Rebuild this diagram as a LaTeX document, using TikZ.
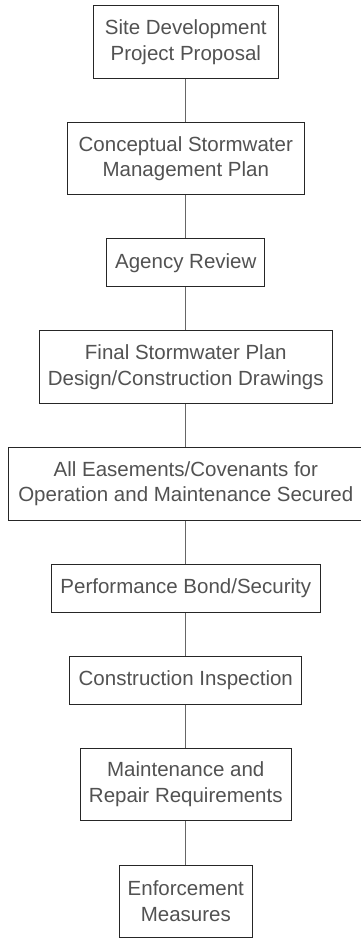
\documentclass[tikz,border=0pt]{standalone}
\usepackage{fontspec}
\setmainfont{Liberation Sans}
\begin{document}
\begin{tikzpicture}[x=1pt,y=1pt,
  stepbox/.style={draw=black!85, line width=1pt, fill=white, text=black!68, align=center,
    font=\fontsize{20.5}{25.7}\selectfont, inner sep=0pt, anchor=center},
  link/.style={draw=black!60, line width=1.3pt}]
\useasboundingbox (0,0) rectangle (360,-941);
\def\cx{185.8}
\node[stepbox, minimum width=185pt, minimum height=72.6pt] (n1) at (\cx,-42) {Site Development\\Project Proposal};
\node[stepbox, minimum width=237pt, minimum height=72.3pt] (n2) at (\cx,-158.8) {Conceptual Stormwater\\Management Plan};
\node[stepbox, minimum width=158.3pt, minimum height=48pt] (n3) at (\cx,-262.7) {Agency Review};
\node[stepbox, minimum width=293pt, minimum height=72.6pt] (n4) at (\cx,-367) {Final Stormwater Plan\\Design/Construction Drawings};
\node[stepbox, minimum width=355pt, minimum height=72.7pt] (n5) at (\cx,-483.7) {All Easements/Covenants for\\Operation and Maintenance Secured};
\node[stepbox, minimum width=269pt, minimum height=48pt] (n6) at (\cx,-588.3) {Performance Bond/Security};
\node[stepbox, minimum width=231.7pt, minimum height=48pt] (n7) at (\cx,-680) {Construction Inspection};
\node[stepbox, minimum width=211pt, minimum height=72.4pt] (n8) at (\cx,-784.5) {Maintenance and\\Repair Requirements};
\node[stepbox, minimum width=133.3pt, minimum height=72.3pt] (n9) at (\cx,-901.2) {Enforcement\\Measures};
\foreach \a/\b in {n1/n2,n2/n3,n3/n4,n4/n5,n5/n6,n6/n7,n7/n8,n8/n9}
  \draw[link] (\a.south) -- (\b.north);
\end{tikzpicture}
\end{document}
